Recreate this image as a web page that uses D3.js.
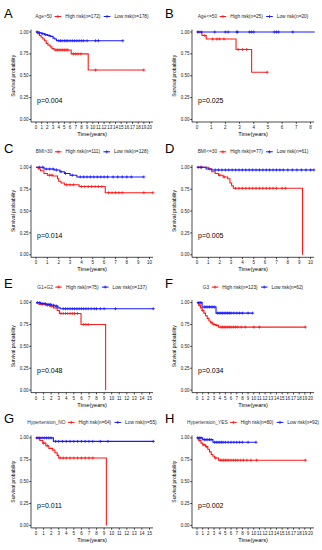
<!DOCTYPE html>
<html>
<head>
<meta charset="utf-8">
<script src="https://cdn.jsdelivr.net/npm/d3@7"></script>
<style>
  html, body { margin: 0; padding: 0; background: #fff; }
  svg { display: block; font-family: "Liberation Sans", Arial, sans-serif; }
</style>
</head>
<body>
<svg id="chart" width="322" height="550"></svg>
<script>
(function () {
    'use strict';

    // ---- data ----
    const panelLetters = ["A", "B", "C", "D", "E", "F", "G", "H"];
    const groupTitles = ["Age>50", "Age<=50", "BMI>30", "BMI<=30", "G1+G2", "G3", "Hypertension_NO", "Hypertension_YES"];
    const highN = [172, 25, 111, 77, 75, 123, 64, 80];
    const lowN = [178, 20, 128, 61, 137, 62, 55, 92];
    const pValues = ["0.004", "0.025", "0.014", "0.005", "0.048", "0.034", "0.011", "0.002"];
    const xTickMax = [20, 8, 10, 10, 15, 20, 15, 20];
    const yTicks = [0, 0.25, 0.5, 0.75, 1];

    // step curves: [time, survival]
    const highA = [[0,1],[0.3,0.98],[0.6,0.96],[0.9,0.94],[1.2,0.92],[1.5,0.90],[1.8,0.87],[2.1,0.85],[2.5,0.83],[2.8,0.81],[3.2,0.795],[6.2,0.75],[9.2,0.565],[19.0,0.565]];
    const lowA = [[0,1],[0.5,0.99],[1.0,0.98],[1.5,0.97],[2.0,0.96],[2.5,0.95],[3.0,0.93],[3.3,0.92],[3.6,0.90],[15.3,0.90]];
    const highB = [[0,1],[0.35,0.96],[0.65,0.92],[2.75,0.80],[3.85,0.54],[4.95,0.54]];
    const lowB = [[0,1],[8.3,1]];
    const highC = [[0,1],[0.2,0.98],[0.4,0.96],[0.7,0.93],[1.0,0.91],[1.5,0.90],[1.9,0.87],[2.0,0.84],[2.2,0.82],[2.5,0.80],[3.8,0.78],[6.1,0.71],[10.3,0.71]];
    const lowC = [[0,1],[0.7,0.98],[1.6,0.97],[2.1,0.95],[2.5,0.93],[3.0,0.91],[3.6,0.89],[9.5,0.89]];
    const highD = [[0,1],[1.0,0.98],[1.3,0.95],[1.6,0.93],[1.9,0.91],[2.3,0.89],[2.7,0.87],[2.9,0.82],[3.05,0.79],[3.2,0.76],[9.3,0]];
    const lowD = [[0,1],[0.8,0.98],[1.3,0.97],[10.3,0.97]];
    const highE = [[0,1],[0.4,0.98],[1.2,0.97],[1.8,0.96],[2.3,0.94],[2.8,0.91],[3.1,0.875],[5.95,0.75],[9.2,0]];
    const lowE = [[0,1],[0.6,0.99],[1.3,0.98],[2.0,0.97],[2.5,0.96],[2.9,0.94],[3.2,0.93],[15.5,0.93]];
    const highF = [[0,1],[0.3,0.97],[0.6,0.94],[0.9,0.91],[1.2,0.88],[1.5,0.85],[1.8,0.82],[2.1,0.79],[2.4,0.77],[2.8,0.75],[3.3,0.74],[3.8,0.72],[19.1,0.72]];
    const lowF = [[0,1],[0.9,0.95],[3.35,0.88],[9.8,0.88]];
    const highG = [[0,1],[0.5,0.97],[0.9,0.94],[1.3,0.91],[1.7,0.88],[2.2,0.86],[2.5,0.83],[2.8,0.80],[3.0,0.77],[9.3,0]];
    const lowG = [[0,1],[2.3,0.96],[15.5,0.96]];
    const highH = [[0,1],[0.3,0.97],[0.7,0.94],[1.0,0.92],[1.5,0.90],[1.9,0.87],[2.2,0.84],[2.5,0.81],[2.8,0.79],[3.1,0.77],[3.8,0.745],[19.1,0.745]];
    const lowH = [[0,1],[1.0,0.98],[2.8,0.95],[10.4,0.95]];

    // censoring times
    const highACens = [3.5,3.8,4.1,4.4,4.7,5.0,5.3,5.6,6.6,7.0,7.4,7.9,10.5,19.0];
    const lowACens = [0.2,0.6,1.2,1.7,2.3,4.0,4.3,4.6,5.0,5.3,5.6,6.0,6.4,6.8,7.2,7.6,8.0,8.4,9.0,10.5,11.0,15.3];
    const highBCens = [0.15,0.55,1.1,1.4,1.6,1.9,2.9,3.2,3.5,4.95];
    const lowBCens = [0.05,0.3,1.25,2.0,2.2,2.8,2.85,3.7,3.85,4.0,5.45,5.6,5.75,6.75];
    const highCCens = [1.2,1.4,2.7,3.0,3.3,4.0,4.3,4.6,4.9,5.2,5.5,5.8,6.4,6.7,7.0,7.3,7.6,9.5,10.3];
    const lowCCens = [0.3,0.6,0.9,1.2,1.5,1.8,2.2,2.6,3.2,3.9,4.2,4.5,4.8,5.1,5.4,5.7,6.0,6.3,6.8,7.2,7.6,8.0,8.4,9.5];
    const highDCens = [0.3,1.1,2.0,2.4,3.4,3.7,4.0,4.3,4.6,4.9,5.2,5.5,5.8,6.1,6.4,6.7,7.0,7.5,7.8];
    const lowDCens = [0.1,0.4,1.6,1.9,2.2,2.5,2.8,3.1,3.4,3.7,4.0,4.3,4.6,4.9,5.2,5.5,5.8,6.1,6.4,6.7,7.0,7.3,7.6,8.0,8.4,8.8,9.2,9.6,10.0,10.3];
    const highECens = [0.8,1.5,2.0,3.3,3.6,3.9,4.2,4.5,4.8,5.1,5.5,6.3,6.6,6.9];
    const lowECens = [0.2,0.5,0.9,1.2,1.6,1.9,2.3,2.7,3.6,3.9,4.2,4.5,4.8,5.1,5.4,5.7,6.0,6.3,6.6,6.9,7.3,7.7,8.0,8.5,9.0,10.5,15.5];
    const highFCens = [0.5,1.0,2.6,3.0,3.5,4.2,4.5,4.8,5.1,5.4,5.7,6.0,6.4,6.8,7.2,7.8,8.5,10.0,11.0,19.1];
    const lowFCens = [0.2,0.5,0.7,1.3,1.6,1.9,2.2,2.5,2.8,3.1,3.6,3.9,4.2,4.5,4.8,5.1,5.4,5.7,6.0,6.5,7.0,7.5,8.0,9.0,9.8];
    const highGCens = [0.3,1.0,1.5,3.2,3.6,4.0,4.5,5.0,5.5,6.0,6.5,7.0,7.5];
    const lowGCens = [0.1,0.5,0.8,1.1,1.4,1.7,2.0,2.6,3.0,3.5,4.0,4.5,5.0,5.5,6.0,6.5,7.0,7.5,8.5,9.5,15.5];
    const highHCens = [0.5,1.2,1.7,3.3,4.1,4.4,4.7,5.0,5.3,5.6,6.0,6.4,6.8,7.2,7.7,8.2,8.8,9.5,10.5,19.1];
    const lowHCens = [0.1,0.4,0.7,1.3,1.6,1.9,2.2,2.5,3.1,3.4,3.7,4.0,4.3,4.6,5.0,5.5,6.0,6.5,7.0,7.5,8.0,9.0,10.4];

    const highCurves = [highA, highB, highC, highD, highE, highF, highG, highH];
    const lowCurves = [lowA, lowB, lowC, lowD, lowE, lowF, lowG, lowH];
    const highCens = [highACens, highBCens, highCCens, highDCens, highECens, highFCens, highGCens, highHCens];
    const lowCens = [lowACens, lowBCens, lowCCens, lowDCens, lowECens, lowFCens, lowGCens, lowHCens];

    // ---- layout ----
    const PANEL_W = 161;
    const PANEL_H = 135.3;
    const AXIS_LEFT = 31, AXIS_RIGHT = 153;
    const AXIS_TOP = 29.5, AXIS_BOTTOM = 122;
    const HIGH_COLOR = "#ff1a1a";
    const LOW_COLOR = "#1a1aff";

    const svg = d3.select("#chart");

    function survAt(steps, t) {
        let s = steps[0][1];
        for (const p of steps) { if (p[0] <= t) s = p[1]; }
        return s;
    }

    function crossPath(x, y, r) {
        return `M${x - r},${y}H${x + r}M${x},${y - r}V${y + r}`;
    }

    function drawPanel(i) {
        const col = i % 2, row = Math.floor(i / 2);
        const g = svg.append("g")
            .attr("transform", `translate(${col * PANEL_W},${row * PANEL_H})`);

        const x = d3.scaleLinear().domain([0, xTickMax[i]]).range([36, 149.5]);
        const y = d3.scaleLinear().domain([0, 1]).range([119.5, 32]);

        // panel letter
        g.append("text")
            .attr("x", 4).attr("y", 17.5)
            .attr("font-size", 13).attr("fill", "#000")
            .text(panelLetters[i]);

        // axes
        const axisG = g.append("g").attr("stroke", "#000").attr("stroke-width", 0.7);
        axisG.append("line").attr("x1", AXIS_LEFT).attr("x2", AXIS_LEFT)
            .attr("y1", AXIS_TOP).attr("y2", AXIS_BOTTOM);
        axisG.append("line").attr("x1", AXIS_LEFT).attr("x2", AXIS_RIGHT)
            .attr("y1", AXIS_BOTTOM).attr("y2", AXIS_BOTTOM);

        yTicks.forEach(v => {
            axisG.append("line").attr("x1", AXIS_LEFT - 1.8).attr("x2", AXIS_LEFT)
                .attr("y1", y(v)).attr("y2", y(v));
            g.append("text")
                .attr("x", AXIS_LEFT - 2.6).attr("y", y(v) + 1.6)
                .attr("text-anchor", "end").attr("font-size", 4.5).attr("fill", "#222")
                .text(d3.format(".2f")(v));
        });

        d3.range(0, xTickMax[i] + 1).forEach(v => {
            axisG.append("line").attr("x1", x(v)).attr("x2", x(v))
                .attr("y1", AXIS_BOTTOM).attr("y2", AXIS_BOTTOM + 1.8);
            g.append("text")
                .attr("x", x(v)).attr("y", AXIS_BOTTOM + 7.2)
                .attr("text-anchor", "middle").attr("font-size", 4.5).attr("fill", "#222")
                .text(v);
        });

        g.append("text")
            .attr("x", (AXIS_LEFT + AXIS_RIGHT) / 2).attr("y", AXIS_BOTTOM + 14.2)
            .attr("text-anchor", "middle").attr("font-size", 5.6).attr("fill", "#000")
            .text("Time(years)");

        g.append("text")
            .attr("transform", `translate(15,${(y(0) + y(1)) / 2}) rotate(-90)`)
            .attr("text-anchor", "middle").attr("font-size", 5).attr("fill", "#000")
            .text("Survival probability");

        // curves
        const line = d3.line()
            .x(d => x(d[0])).y(d => y(d[1]))
            .curve(d3.curveStepAfter);

        [[highCurves[i], highCens[i], HIGH_COLOR], [lowCurves[i], lowCens[i], LOW_COLOR]]
            .forEach(([steps, cens, color]) => {
                g.append("path")
                    .attr("d", line(steps))
                    .attr("fill", "none").attr("stroke", color).attr("stroke-width", 1.1);
                g.append("path")
                    .attr("d", cens.map(t => crossPath(x(t), y(survAt(steps, t)), 1.5)).join(""))
                    .attr("fill", "none").attr("stroke", color).attr("stroke-width", 0.8);
            });

        // p value
        g.append("text")
            .attr("x", 37).attr("y", 102.5)
            .attr("font-size", 7).attr("fill", "#000")
            .text("p=" + pValues[i]);

        // legend
        const leg = g.append("g");
        let cx = 0;
        const ly = 16.5;
        const title = leg.append("text").attr("x", cx).attr("y", ly + 1.7)
            .attr("font-size", 4.8).attr("fill", "#333").text(groupTitles[i]);
        cx += title.node().getComputedTextLength() + 2.5;
        [[HIGH_COLOR, `High risk(n=${highN[i]})`], [LOW_COLOR, `Low risk(n=${lowN[i]})`]]
            .forEach(([color, label]) => {
                leg.append("line").attr("x1", cx).attr("x2", cx + 6.6)
                    .attr("y1", ly).attr("y2", ly)
                    .attr("stroke", color).attr("stroke-width", 1);
                leg.append("path").attr("d", crossPath(cx + 3.3, ly, 1.5))
                    .attr("stroke", color).attr("stroke-width", 0.8);
                cx += 6.6 + 4;
                const t = leg.append("text").attr("x", cx).attr("y", ly + 1.7)
                    .attr("font-size", 4.8).attr("fill", "#222").text(label);
                cx += t.node().getComputedTextLength() + 3.3;
            });
        cx -= 3.3;
        leg.attr("transform", `translate(${92 - cx / 2},0)`);
    }

    d3.range(8).forEach(drawPanel);
})();
</script>
</body>
</html>
